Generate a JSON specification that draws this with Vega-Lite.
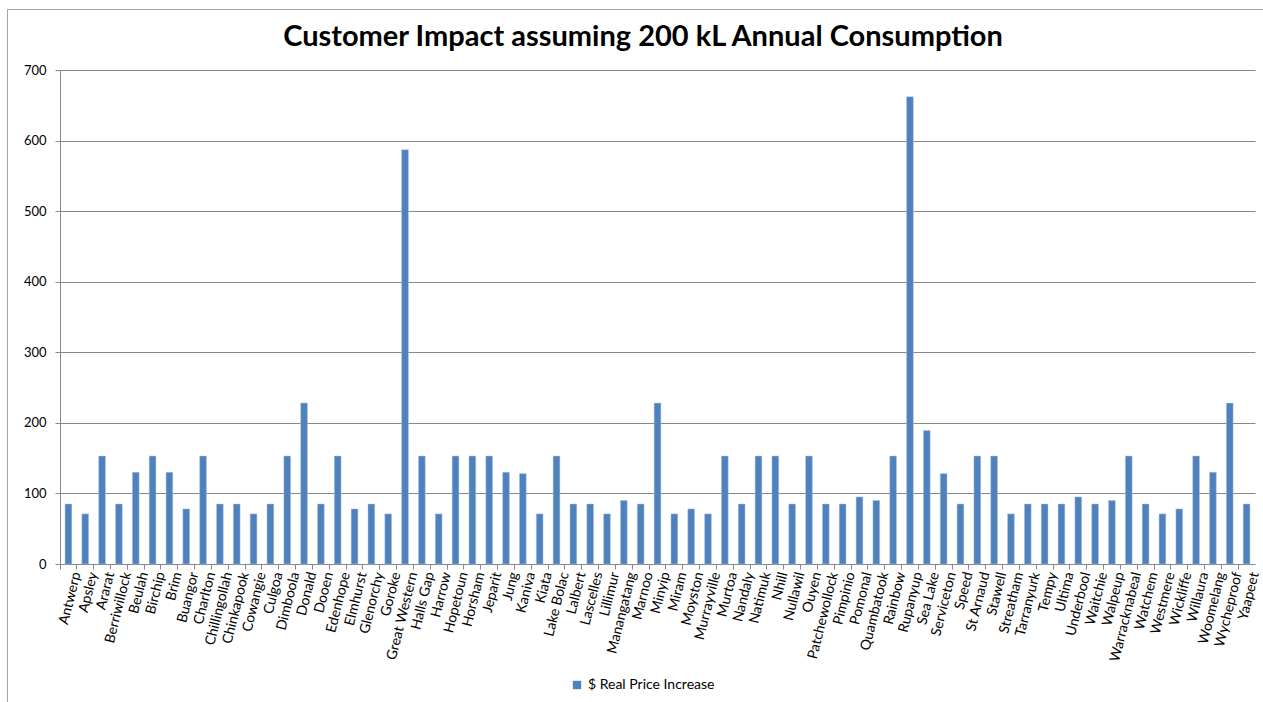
{
  "$schema": "https://vega.github.io/schema/vega-lite/v6.json",
  "autosize": {"type": "none"},
  "padding": {"left": 7, "top": 9, "right": 0, "bottom": 0},
  "width": 1256,
  "height": 693,
  "background": "white",
  "title": {
    "text": "Customer Impact assuming 200 kL Annual Consumption",
    "font": "Lato",
    "fontSize": 29,
    "fontWeight": "bold",
    "color": "#000000",
    "anchor": "middle",
    "frame": "group",
    "orient": "top",
    "offset": -66,
    "dx": 8,
    "baseline": "alphabetic"
  },
  "config": {
    "font": "Lato",
    "view": {"stroke": "#a3a3a3", "strokeWidth": 1, "strokeDash": [1256, 1949, 693]}
  },
  "data": {
    "values": [
      {"town": "Antwerp", "increase": 85},
      {"town": "Apsley", "increase": 71},
      {"town": "Ararat", "increase": 153},
      {"town": "Berriwillock", "increase": 85},
      {"town": "Beulah", "increase": 130},
      {"town": "Birchip", "increase": 153},
      {"town": "Brim", "increase": 130},
      {"town": "Buangor", "increase": 78},
      {"town": "Charlton", "increase": 153},
      {"town": "Chillingollah", "increase": 85},
      {"town": "Chinkapook", "increase": 85},
      {"town": "Cowangie", "increase": 71},
      {"town": "Culgoa", "increase": 85},
      {"town": "Dimboola", "increase": 153},
      {"town": "Donald", "increase": 228},
      {"town": "Dooen", "increase": 85},
      {"town": "Edenhope", "increase": 153},
      {"town": "Elmhurst", "increase": 78},
      {"town": "Glenorchy", "increase": 85},
      {"town": "Goroke", "increase": 71},
      {"town": "Great Western", "increase": 587},
      {"town": "Halls Gap", "increase": 153},
      {"town": "Harrow", "increase": 71},
      {"town": "Hopetoun", "increase": 153},
      {"town": "Horsham", "increase": 153},
      {"town": "Jeparit", "increase": 153},
      {"town": "Jung", "increase": 130},
      {"town": "Kaniva", "increase": 128},
      {"town": "Kiata", "increase": 71},
      {"town": "Lake Bolac", "increase": 153},
      {"town": "Lalbert", "increase": 85},
      {"town": "Lascelles", "increase": 85},
      {"town": "Lillimur", "increase": 71},
      {"town": "Manangatang", "increase": 90},
      {"town": "Marnoo", "increase": 85},
      {"town": "Minyip", "increase": 228},
      {"town": "Miram", "increase": 71},
      {"town": "Moyston", "increase": 78},
      {"town": "Murrayville", "increase": 71},
      {"town": "Murtoa", "increase": 153},
      {"town": "Nandaly", "increase": 85},
      {"town": "Natimuk", "increase": 153},
      {"town": "Nhill", "increase": 153},
      {"town": "Nullawil", "increase": 85},
      {"town": "Ouyen", "increase": 153},
      {"town": "Patchewollock", "increase": 85},
      {"town": "Pimpinio", "increase": 85},
      {"town": "Pomonal", "increase": 95},
      {"town": "Quambatook", "increase": 90},
      {"town": "Rainbow", "increase": 153},
      {"town": "Rupanyup", "increase": 662},
      {"town": "Sea Lake", "increase": 189},
      {"town": "Serviceton", "increase": 128},
      {"town": "Speed", "increase": 85},
      {"town": "St Arnaud", "increase": 153},
      {"town": "Stawell", "increase": 153},
      {"town": "Streatham", "increase": 71},
      {"town": "Tarranyurk", "increase": 85},
      {"town": "Tempy", "increase": 85},
      {"town": "Ultima", "increase": 85},
      {"town": "Underbool", "increase": 95},
      {"town": "Waitchie", "increase": 85},
      {"town": "Walpeup", "increase": 90},
      {"town": "Warracknabeal", "increase": 153},
      {"town": "Watchem", "increase": 85},
      {"town": "Westmere", "increase": 71},
      {"town": "Wickliffe", "increase": 78},
      {"town": "Willaura", "increase": 153},
      {"town": "Woomelang", "increase": 130},
      {"town": "Wycheproof", "increase": 228},
      {"town": "Yaapeet", "increase": 85}
    ]
  },
  "mark": {"type": "bar", "width": {"band": 0.4}, "stroke": "#adc3e1", "strokeWidth": 0.5},
  "encoding": {
    "x": {
      "field": "town",
      "type": "nominal",
      "sort": null,
      "title": null,
      "scale": {"range": [53, 1248], "paddingInner": 0, "paddingOuter": 0},
      "axis": {
        "orient": "bottom",
        "offset": -138,
        "bandPosition": 0,
        "labelOffset": 8.4,
        "labelAngle": -76,
        "labelFont": "Lato",
        "labelFontSize": 14,
        "labelColor": "#000000",
        "labelPadding": 3,
        "labelOverlap": false,
        "labelBound": false,
        "tickSize": 5,
        "tickColor": "#878787",
        "domainColor": "#878787",
        "grid": false
      }
    },
    "y": {
      "field": "increase",
      "type": "quantitative",
      "title": null,
      "scale": {"domain": [0, 700], "range": [555, 61], "nice": false},
      "axis": {
        "values": [0, 100, 200, 300, 400, 500, 600, 700],
        "offset": -53,
        "grid": true,
        "gridColor": "#878787",
        "gridOpacity": 1,
        "tickSize": 5,
        "tickColor": "#878787",
        "domainColor": "#878787",
        "labelFont": "Lato",
        "labelFontSize": 13,
        "labelColor": "#000000",
        "labelPadding": 9
      }
    },
    "color": {
      "datum": "$ Real Price Increase",
      "type": "nominal",
      "scale": {"range": ["#4F81BD"]},
      "legend": {
        "orient": "none",
        "legendX": 563,
        "legendY": 669,
        "title": null,
        "symbolType": "square",
        "symbolSize": 70,
        "symbolStrokeWidth": 0,
        "labelFont": "Lato",
        "labelFontSize": 14,
        "labelColor": "#000000"
      }
    }
  }
}
